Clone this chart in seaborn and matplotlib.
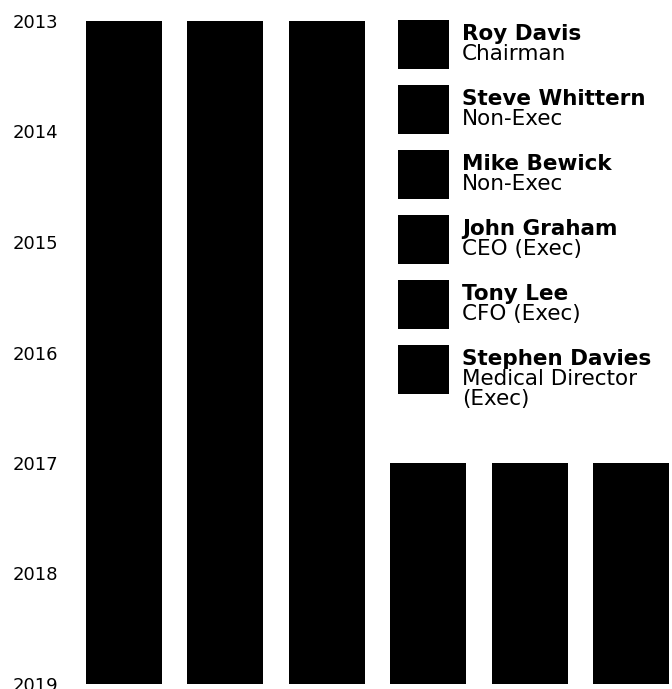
import matplotlib
matplotlib.use("Agg")
import matplotlib.pyplot as plt
import numpy as np
import pandas as pd
import seaborn as sns
from matplotlib.patches import Rectangle

# ---- data ----
names = ["Roy Davis", "Steve Whittern", "Mike Bewick", "John Graham", "Tony Lee", "Stephen Davies"]
roles = ["Chairman", "Non-Exec", "Non-Exec", "CEO (Exec)", "CFO (Exec)", "Medical Director\n(Exec)"]
start_year = [2013, 2013, 2013, 2017, 2017, 2017]
end_year = [2019, 2019, 2019, 2019, 2019, 2019]
year_ticks = [2013, 2014, 2015, 2016, 2017, 2018, 2019]

df = pd.DataFrame({"name": names, "start": start_year, "end": end_year})
df["tenure"] = df["end"] - df["start"]

# ---- style ----
sns.set_style("white")
plt.rcParams["font.family"] = ["DejaVu Sans"]

W, H = 672, 689
fig = plt.figure(figsize=(W / 100, H / 100), dpi=100)

def fx(px):
    return px / W

def fy(py):
    return 1 - py / H

# axes: x from -0.5 (px 73) to 5.4 (px 672); y 2013 at px 21, 2019 at px 684
ax = fig.add_axes([fx(73.2), fy(684), fx(672) - fx(73.2), fy(21) - fy(684)])

sns.barplot(data=df, x="name", y="tenure", bottom=df["start"].to_numpy(),
            color="black", saturation=1, width=0.75, errorbar=None,
            linewidth=0, ax=ax)

ax.set_xlim(-0.5, 5.4)
ax.set_ylim(2019, 2013)
ax.set_yticks(year_ticks)
ax.set_yticklabels([str(y) for y in year_ticks], fontsize=13, color="black")
ax.tick_params(axis="y", length=0, pad=11)
ax.set_xticks([])
ax.set_xlabel("")
ax.set_ylabel("")
for s in ax.spines.values():
    s.set_visible(False)

# ---- legend (manual) ----
sq_tops = [20, 85, 150, 215, 280, 345]
for top, nm, rl in zip(sq_tops, names, roles):
    fig.add_artist(Rectangle((fx(398), fy(top + 49)), fx(449) - fx(398), fy(top) - fy(top + 49),
                             facecolor="black", edgecolor="none", transform=fig.transFigure))
    fig.text(fx(462), fy(top + 20), nm, fontsize=15.5, fontweight="bold", va="baseline", ha="left",
             color="black")
    for k, line in enumerate(rl.split("\n")):
        fig.text(fx(462), fy(top + 40 + 20 * k), line, fontsize=15.5, va="baseline", ha="left",
                 color="black")

fig.savefig("out.png", dpi=100)
